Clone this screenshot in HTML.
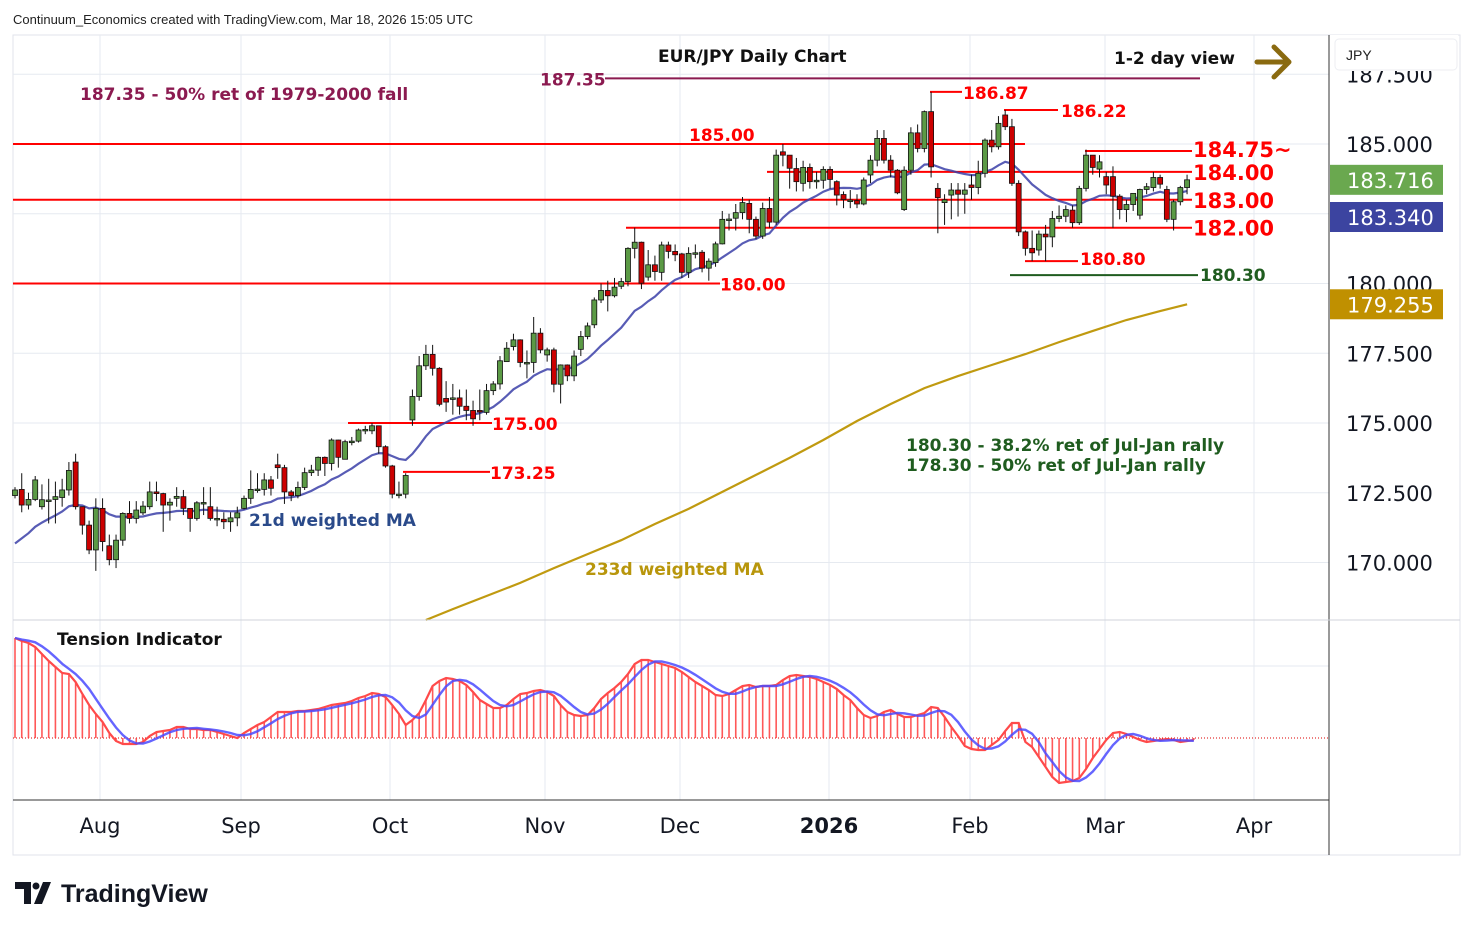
<!DOCTYPE html>
<html><head><meta charset="utf-8">
<style>
html,body{margin:0;padding:0;background:#fff;}
svg{display:block;font-family:"Liberation Sans","DejaVu Sans",sans-serif;}
.dv{font-family:"DejaVu Sans","Liberation Sans",sans-serif;}
</style></head>
<body>
<svg id="chart" width="1474" height="930" viewBox="0 0 1474 930" xmlns="http://www.w3.org/2000/svg">
<rect x="0" y="0" width="1474" height="930" fill="#fff"/>
<text x="13" y="24" font-size="13" fill="#222">Continuum_Economics created with TradingView.com, Mar 18, 2026 15:05 UTC</text>
<rect x="13" y="35" width="1447" height="820" fill="none" stroke="#e0e3eb"/>
<g id="grid"></g>
<g id="levels"></g>
<g id="mas"></g>
<g id="candles"></g>
<g id="ind"></g>
<g id="axes"></g>
<line x1="1329" y1="35" x2="1329" y2="855" stroke="#333" stroke-width="1"/>
<line x1="13" y1="620" x2="1460" y2="620" stroke="#d0d3db"/>
<line x1="13" y1="800" x2="1329" y2="800" stroke="#333"/>
<text class="dv" x="658" y="62" font-size="17" font-weight="bold" fill="#111">EUR/JPY Daily Chart</text>
<text class="dv" x="1114" y="64" font-size="17" font-weight="bold" fill="#111">1-2 day view</text>
<g><line x1="1257" y1="62" x2="1287" y2="62" stroke="#8a6a10" stroke-width="5" stroke-linecap="round"/><polyline points="1274,47 1289,62 1274,77" fill="none" stroke="#8a6a10" stroke-width="5" stroke-linecap="round" stroke-linejoin="round"/></g>
<rect x="1335" y="39" width="122" height="31" rx="4" fill="#fff" stroke="#eceef2"/>
<text x="1346" y="60" font-size="14" fill="#222">JPY</text>
<text class="dv" x="80" y="100" font-size="17" font-weight="bold" fill="#8b1a50">187.35 - 50% ret of 1979-2000 fall</text>
<text class="dv" x="906" y="451" font-size="17" font-weight="bold" fill="#1f5c1f">180.30 - 38.2% ret of Jul-Jan rally</text>
<text class="dv" x="906" y="471" font-size="17" font-weight="bold" fill="#1f5c1f">178.30 - 50% ret of Jul-Jan rally</text>
<text class="dv" x="249" y="526" font-size="17" font-weight="bold" fill="#2a4a8a">21d weighted MA</text>
<text class="dv" x="585" y="575" font-size="17" font-weight="bold" fill="#b8960c">233d weighted MA</text>
<text class="dv" x="57" y="645" font-size="17" font-weight="bold" fill="#111">Tension Indicator</text>
<g>
<path d="M15 882 h16 v22 h-7 v-15 h-9 z M34 904 l9 -22 h8 l-9 22 z" fill="#131722"/><circle cx="36" cy="886" r="3.5" fill="#131722"/>
<text x="61" y="902" font-size="25" font-weight="bold" fill="#131722">TradingView</text>
</g>
</svg>
<script>
// ---- data ----
const opens=[172.4,172.62,172.06,172.26,172.0,172.24,172.26,172.33,172.6,173.6,172.0,171.34,170.45,171.94,170.6,170.1,170.8,171.76,171.58,171.78,172.0,172.53,172.47,172.06,172.3,172.36,171.94,171.58,172.15,172.0,171.58,171.55,171.46,171.6,171.94,172.3,172.62,172.62,172.96,173.5,173.4,172.53,172.4,172.69,173.22,173.31,173.77,173.55,174.39,173.7,174.35,174.35,174.77,174.72,174.9,174.15,173.46,172.45,172.45,175.11,175.95,177.05,177.46,176.96,175.88,175.9,175.9,175.6,175.45,175.45,175.38,176.16,176.4,177.2,177.74,177.98,177.17,177.17,178.22,177.44,177.62,176.39,177.08,176.69,177.64,178.1,178.52,179.41,179.75,179.56,179.9,180.07,181.26,181.48,180.23,180.67,180.4,181.38,181.15,181.06,180.4,181.1,181.12,180.55,180.75,181.42,182.31,182.34,182.54,182.87,182.3,181.7,182.69,182.2,184.72,184.6,184.12,183.59,184.16,183.7,183.7,184.09,183.65,183.19,182.99,182.97,182.85,183.89,184.42,185.2,184.42,184.06,182.65,184.06,185.4,184.84,186.16,183.41,182.9,183.17,183.35,183.2,183.53,183.44,183.95,185.14,184.9,186.04,185.62,183.59,181.85,181.26,181.2,181.77,181.67,182.33,182.41,182.63,182.18,183.41,184.6,184.1,183.83,183.83,183.13,182.65,182.83,182.45,183.37,183.44,183.8,183.37,182.3,182.93,183.44];
const highs=[172.7,173.2,172.5,173.1,172.8,173.0,172.9,173.0,173.6,173.9,172.0,171.5,172.3,172.3,171.0,171.0,171.8,172.2,172.2,172.2,172.9,172.9,172.5,172.3,172.7,172.6,171.95,172.2,172.7,172.7,172.0,171.8,171.8,172.0,172.4,173.3,173.2,173.2,173.1,173.9,173.5,172.6,172.9,173.4,173.5,173.8,173.8,174.45,174.4,174.4,174.5,174.8,174.9,175.0,174.9,174.2,173.5,172.9,173.2,176.2,177.4,177.8,177.8,177.0,176.5,176.4,176.2,176.2,175.8,176.2,176.4,176.5,177.4,177.9,178.2,178.0,177.6,178.8,178.4,177.7,177.7,177.1,177.1,177.6,178.3,178.6,179.5,180.0,180.1,180.2,180.2,181.3,182.0,181.5,181.2,181.0,181.5,181.5,181.4,181.1,181.3,181.4,181.2,180.9,181.5,182.6,182.5,182.85,183.1,183.0,182.4,182.9,183.1,184.8,185.0,184.6,184.5,184.4,184.3,184.0,184.2,184.2,183.7,183.3,183.35,183.2,183.8,184.6,185.5,185.5,184.6,184.1,184.2,185.6,185.7,186.2,186.87,183.6,183.2,183.6,183.6,183.6,183.9,184.4,185.2,185.5,186.0,186.22,185.9,183.7,181.9,181.9,181.9,182.1,182.6,182.8,182.8,182.8,183.5,184.8,184.6,184.6,184.0,184.2,183.2,183.0,183.2,183.4,183.6,184.0,183.9,183.5,183.0,183.5,183.9];
const lows=[172.3,171.8,171.9,172.2,171.9,171.4,171.4,172.0,172.4,171.9,171.0,170.3,169.7,170.4,169.9,169.8,170.6,171.4,171.4,171.7,171.9,172.2,171.1,171.5,172.0,171.7,171.1,171.5,171.7,171.5,171.3,171.2,171.1,171.3,171.9,172.1,172.5,172.4,172.4,173.0,172.1,172.2,172.3,172.6,173.1,173.1,173.1,173.3,173.4,173.7,174.2,174.3,174.6,174.6,173.9,173.4,172.3,172.3,172.3,174.9,175.8,176.9,176.7,175.6,175.4,175.3,175.3,175.1,174.9,175.1,175.3,176.0,176.2,177.2,177.6,177.0,176.6,176.8,177.5,177.2,176.1,175.7,176.5,176.5,177.4,178.0,178.4,179.3,179.0,179.5,179.8,179.9,180.9,179.8,180.1,180.1,180.1,180.9,180.8,180.2,180.2,180.9,180.4,180.1,180.6,181.4,181.9,181.9,182.3,181.8,181.6,181.6,182.0,182.1,184.2,183.4,183.3,183.3,183.4,183.4,183.4,183.4,182.8,182.7,182.7,182.7,182.8,183.6,184.2,184.3,183.8,183.2,182.6,183.9,184.7,184.7,183.8,181.8,182.1,182.3,182.4,182.5,183.0,183.2,183.8,184.7,184.8,185.5,183.5,181.7,181.0,180.8,181.0,180.8,181.3,182.2,182.2,182.0,182.1,183.3,183.9,183.8,183.2,182.0,182.3,182.2,182.6,182.3,183.2,183.3,183.4,182.2,181.9,182.8,183.2];
const closes=[172.6,172.06,172.26,172.96,172.25,172.24,172.36,172.6,173.3,172.0,171.34,170.45,171.94,170.75,170.1,170.8,171.76,171.58,171.88,172.02,172.53,172.47,172.06,172.16,172.37,171.94,171.58,172.14,172.15,171.58,171.58,171.46,171.6,171.78,172.3,172.62,172.63,172.96,172.66,173.4,172.53,172.4,172.69,173.22,173.31,173.77,173.55,174.39,173.77,174.33,174.35,174.75,174.77,174.9,174.15,173.46,172.45,172.45,173.12,175.95,177.05,177.46,176.96,175.67,175.75,175.9,175.6,175.45,175.15,175.44,176.16,176.4,177.23,177.68,177.98,177.17,177.17,178.22,177.62,177.62,176.39,177.08,176.69,177.4,178.1,178.48,179.41,179.75,179.56,179.87,180.07,181.26,181.48,180.01,180.67,180.43,181.38,181.15,181.03,180.4,181.08,181.1,180.55,180.8,181.42,182.3,182.31,182.54,182.9,182.3,181.7,182.69,182.2,184.6,184.6,184.13,183.65,184.16,183.65,183.7,184.09,183.73,183.17,183.01,182.99,182.85,183.71,184.42,185.2,184.42,184.06,183.25,184.06,185.4,184.84,186.16,184.18,183.08,183.0,183.35,183.2,183.35,183.44,183.95,185.14,184.9,185.74,185.62,183.59,181.85,181.26,181.1,181.77,181.67,182.33,182.41,182.65,182.18,183.41,184.6,184.16,184.36,183.53,183.13,182.65,182.83,183.23,183.37,183.47,183.8,183.56,182.3,182.93,183.44,183.716];
const priorCloses=[168.2,168.5,168.8,168.6,169.0,169.3,169.1,169.5,169.8,169.6,170.0,170.3,170.1,170.5,170.8,170.6,171.0,171.3,171.6,171.9];
const ma233Bars=[61,65,70,75,80,85,90,95,100,105,110,115,120,125,130,135,140,145,150,155,160,165,170,174];
const ma233Vals=[167.94,168.33,168.8,169.27,169.8,170.3,170.8,171.38,171.92,172.53,173.14,173.75,174.39,175.07,175.68,176.25,176.68,177.08,177.47,177.9,178.3,178.69,179.01,179.255];
const tension=[100,97,95,91,84,77,71,65,64,56,44,33,24,16,5,-3,-6,-6,-6,-4,2,6,7,8,11,11,9,9,8,8,6,4,2,0,5,9,13,16,21,26,26,26,27,27,28,29,31,33,34,35,37,40,42,45,44,41,33,24,13,18,25,38,52,57,60,59,57,53,46,38,34,30,30,33,39,44,45,47,48,46,42,33,26,23,22,23,30,39,45,50,56,64,74,78,78,76,74,72,70,66,61,56,52,48,43,42,44,48,52,53,51,52,52,53,58,62,63,62,61,59,56,53,49,43,38,30,23,20,22,26,28,24,21,21,23,25,31,30,21,11,2,-8,-11,-12,-12,-7,-2,7,15,15,-4,-9,-19,-29,-39,-45,-44,-43,-40,-31,-20,-11,-2,5,6,4,1,-2,-4,-3,-2,-1,-2,-4,-3,-2];
const priceTicks=[187.5,185,182.5,180,177.5,175,172.5,170];
const priceTickLabels=["187.500","185.000","182.500","180.000","177.500","175.000","172.500","170.000"];
const monthLabels=["Aug","Sep","Oct","Nov","Dec","2026","Feb","Mar","Apr"];
const monthX=[100,241,390,545,680,829,970,1105,1254];

// ---- scales ----
const NS="http://www.w3.org/2000/svg";
function yP(p){return 144+(185-p)*27.9;}
function xB(i){return 15+6.736*i;}
function yT(v){return 738-v;}
function mk(tag,attrs,parent){const e=document.createElementNS(NS,tag);for(const k in attrs)e.setAttribute(k,attrs[k]);parent.appendChild(e);return e;}
const G=id=>document.getElementById(id);
const DV='"DejaVu Sans","Liberation Sans",sans-serif';

// grid
const grid=G('grid');
priceTicks.forEach(p=>{const l=mk('line',{x1:13,x2:1329,y1:yP(p),y2:yP(p),stroke:'#e6eaf0'},grid);

});
[666].forEach(y=>{const l=mk('line',{x1:13,x2:1329,y1:y,y2:y,stroke:'#e6eaf0'},grid);

});
monthX.forEach(x=>{const l=mk('line',{x1:x,x2:x,y1:35,y2:800,stroke:'#e6eaf0'},grid);

});

// axes labels
const axes=G('axes');
priceTicks.forEach((p,k)=>{const t=mk('text',{x:1346,y:yP(p)+8,'font-size':21,fill:'#131722','font-family':DV},axes);t.textContent=priceTickLabels[k];

});
const cover=mk('rect',{x:1330,y:35,width:128,height:36,fill:'#fff'},axes);


monthLabels.forEach((m,k)=>{const t=mk('text',{x:monthX[k],y:833,'font-size':21,'text-anchor':'middle',fill:'#131722','font-family':DV,'font-weight':m==='2026'?'bold':'normal'},axes);t.textContent=m;

});
function tag(p,txt,bg,name,yc){const y=(yc!==undefined)?yc:yP(p);const r=mk('rect',{x:1330,y:y-15,width:113,height:30,fill:bg},axes);


const t=mk('text',{x:1347,y:y+8,'font-size':21,fill:'#fff','font-family':DV},axes);t.textContent=txt;

}
tag(closes[closes.length-1],closes[closes.length-1].toFixed(3),'#6aa84f','last-price-tag');
tag(183.34,'183.340','#3c44a0','wma21-price-tag',217);
tag(ma233Vals[ma233Vals.length-1],ma233Vals[ma233Vals.length-1].toFixed(3),'#c09000','wma233-price-tag');

// levels
const lv=G('levels');
function hline(p,x1,x2,col,name){const l=mk('line',{x1:x1,x2:x2,y1:yP(p),y2:yP(p),stroke:col,'stroke-width':2},lv);

}
function lab(p,x,txt,col,size,name,dy){const t=mk('text',{x:x,y:yP(p)+(dy||0),'font-size':size,fill:col,'font-weight':'bold','font-family':DV},lv);t.textContent=txt;

}
hline(187.35,605,1200,'#8b1a50','level-187-35');lab(187.35,540,'187.35','#8b1a50',17,'label-187-35',7);
hline(185,13,1025,'#f00','level-185');lab(185,689,'185.00','#f00',17,'label-185',-3);
hline(186.87,930,962,'#f00','level-186-87');lab(186.87,963,'186.87','#f00',17,'label-186-87',7);
hline(186.22,1004,1058,'#f00','level-186-22');lab(186.22,1061,'186.22','#f00',17,'label-186-22',7);
hline(184.75,1085,1192,'#f00','level-184-75');lab(184.75,1193,'184.75~','#f00',21,'label-184-75',6);
hline(184,767,1192,'#f00','level-184');lab(184,1193,'184.00','#f00',21,'label-184',8);
hline(183,13,1192,'#f00','level-183');lab(183,1193,'183.00','#f00',21,'label-183',8);
hline(182,626,1192,'#f00','level-182');lab(182,1193,'182.00','#f00',21,'label-182',8);
hline(180.8,1025,1078,'#f00','level-180-80');lab(180.8,1080,'180.80','#f00',17,'label-180-80',4);
hline(180.3,1010,1198,'#1f5c1f','level-180-30');lab(180.3,1200,'180.30','#1f5c1f',17,'label-180-30',6);
hline(180,13,720,'#f00','level-180');lab(180,720,'180.00','#f00',17,'label-180',7);
hline(175,348,492,'#f00','level-175');lab(175,492,'175.00','#f00',17,'label-175',7);
hline(173.25,403,490,'#f00','level-173-25');lab(173.25,490,'173.25','#f00',17,'label-173-25',7);

// moving averages
const mas=G('mas');
const all=priorCloses.concat(closes);let wpts=[];
for(let i=0;i<closes.length;i++){let s=0,w=0;for(let k=0;k<21;k++){const v=all[i+priorCloses.length-k];const wt=21-k;s+=v*wt;w+=wt;}wpts.push(xB(i).toFixed(1)+','+yP(s/w).toFixed(1));}
const wl=mk('polyline',{points:wpts.join(' '),fill:'none',stroke:'#3b3fa8','stroke-width':2.2,'stroke-opacity':0.85},mas);


const gp=ma233Bars.map((b,k)=>xB(b).toFixed(1)+','+yP(ma233Vals[k]).toFixed(1));
const gl=mk('polyline',{points:gp.join(' '),fill:'none',stroke:'#c09a10','stroke-width':2.2},mas);



// candles
const cg=G('candles');
for(let i=0;i<closes.length;i++){
 const x=xB(i),o=opens[i],c=closes[i],up=c>=o;
 const w=mk('line',{x1:x,x2:x,y1:yP(highs[i]),y2:yP(lows[i]),stroke:'#111','stroke-width':1},cg);
 
 
 const top=yP(Math.max(o,c)),h=Math.max(1.5,Math.abs(yP(o)-yP(c)));
 const b=mk('rect',{x:x-2.5,y:top,width:5,height:h,fill:up?'#5b9a45':'#cc0000',stroke:'#111','stroke-width':0.8},cg);
 
 
}

// tension indicator
const ig=G('ind');
const zl=mk('line',{x1:13,x2:1329,y1:738,y2:738,stroke:'#d00','stroke-width':1,'stroke-dasharray':'1,2'},ig);


let rp=[],bp=[];
for(let i=0;i<tension.length;i++){
 const x=xB(i);
 const hb=mk('line',{x1:x,x2:x,y1:738,y2:yT(tension[i]),stroke:'#ff3b3b','stroke-width':1.6,'stroke-opacity':0.85},ig);
 
 
 rp.push(x.toFixed(1)+','+yT(tension[i]).toFixed(1));
 let s=0,n=0;for(let k=Math.max(0,i-3);k<=i;k++){s+=tension[k];n++;}
 bp.push(x.toFixed(1)+','+yT(s/n).toFixed(1));
}
const rl=mk('polyline',{points:rp.join(' '),fill:'none',stroke:'#ff4a4a','stroke-width':2.2},ig);


const bl=mk('polyline',{points:bp.join(' '),fill:'none',stroke:'#4a4aff','stroke-width':2.4,'stroke-opacity':0.85},ig);


</script>
</body></html>
